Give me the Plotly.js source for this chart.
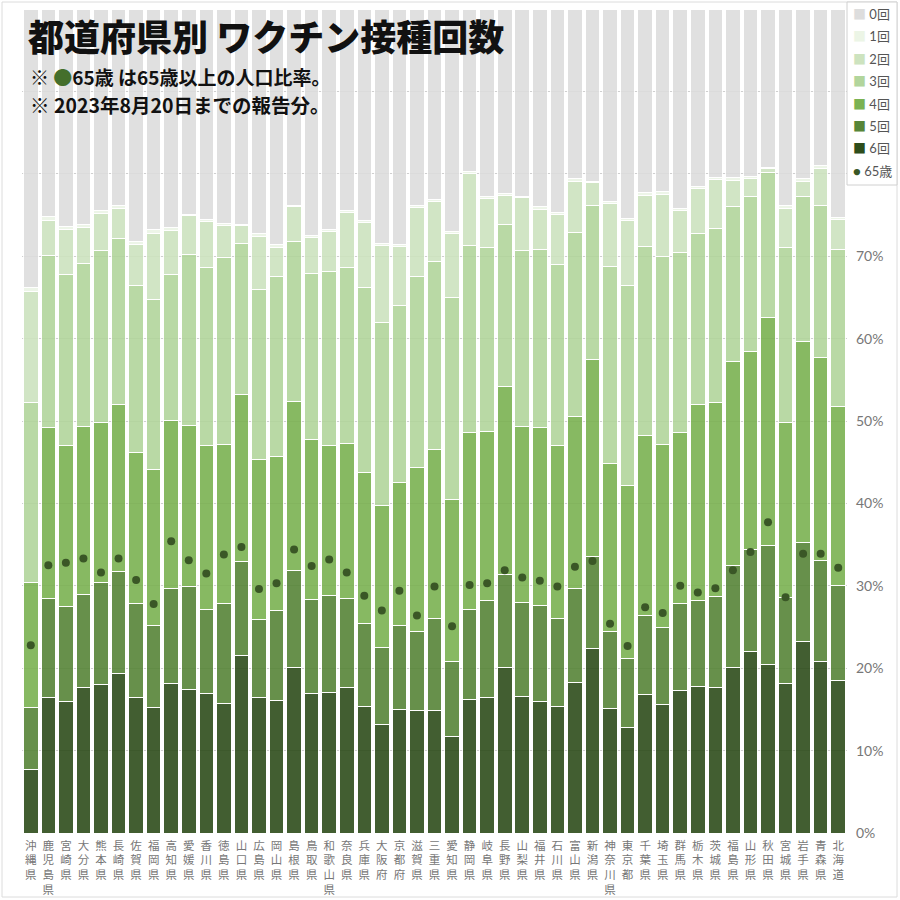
<!DOCTYPE html>
<html>
<head>
<meta charset="utf-8">
<script src="https://cdn.plot.ly/plotly-3.0.1.min.js"></script>
<style>
  body { margin: 0; background: #fff; }
  #chart { width: 900px; height: 900px; }
</style>
</head>
<body>
<div id="chart"></div>
<script>
const prefectures = ['沖縄県', '鹿児島県', '宮崎県', '大分県', '熊本県', '長崎県', '佐賀県', '福岡県',
  '高知県', '愛媛県', '香川県', '徳島県', '山口県', '広島県', '岡山県', '島根県', '鳥取県', '和歌山県',
  '奈良県', '兵庫県', '大阪府', '京都府', '滋賀県', '三重県', '愛知県', '静岡県', '岐阜県', '長野県',
  '山梨県', '福井県', '石川県', '富山県', '新潟県', '神奈川県', '東京都', '千葉県', '埼玉県', '群馬県',
  '栃木県', '茨城県', '福島県', '山形県', '秋田県', '宮城県', '岩手県', '青森県', '北海道'];

// share of population with at least N doses (%)
const atLeast6 = [7.7, 16.4, 15.9, 17.6, 18.0, 19.4, 16.4, 15.2, 18.1, 17.4, 16.9, 15.7, 21.6, 16.4, 16.1, 20.1,
  16.9, 17.0, 17.6, 15.3, 13.2, 15.0, 14.9, 14.9, 11.7, 16.2, 16.4, 20.1, 16.6, 16.0, 15.4, 18.3, 22.4, 15.1,
  12.8, 16.8, 15.6, 17.3, 17.8, 17.7, 20.1, 22.0, 20.5, 18.1, 23.2, 20.8, 18.5];
const atLeast5 = [15.2, 28.5, 27.5, 29.0, 30.4, 31.7, 27.9, 25.2, 29.7, 29.9, 27.1, 27.8, 33.0, 25.9, 27.0, 31.8,
  28.3, 28.8, 28.5, 25.4, 22.5, 25.2, 24.5, 26.0, 20.8, 27.1, 28.2, 31.4, 28.0, 27.6, 26.0, 29.7, 33.6, 24.5,
  21.2, 26.4, 25.0, 27.8, 28.2, 28.7, 32.5, 34.4, 34.9, 28.6, 35.3, 33.1, 30.0];
const atLeast4 = [30.4, 49.2, 47.0, 49.3, 49.8, 52.0, 46.2, 44.1, 50.1, 49.4, 47.0, 47.1, 53.2, 45.3, 45.7, 52.4,
  47.8, 47.0, 47.3, 43.7, 39.7, 42.5, 44.4, 46.6, 40.5, 48.6, 48.7, 54.2, 49.3, 49.2, 47.0, 50.6, 57.5, 44.9,
  42.2, 48.3, 47.2, 48.6, 52.0, 52.2, 57.2, 58.4, 62.6, 49.8, 59.7, 57.7, 51.7];
const atLeast3 = [52.3, 70.1, 67.8, 69.1, 70.7, 72.1, 66.5, 64.8, 67.8, 70.2, 68.6, 69.8, 71.5, 66.0, 67.5, 71.8,
  67.9, 68.2, 68.6, 66.2, 62.0, 64.0, 67.5, 69.3, 65.0, 71.3, 71.1, 73.9, 70.7, 70.8, 69.0, 72.9, 76.2, 68.7,
  66.4, 71.2, 70.0, 70.5, 72.7, 73.4, 76.0, 77.3, 80.1, 71.0, 77.2, 76.1, 70.8];
const atLeast2 = [65.7, 74.3, 73.3, 73.5, 75.2, 75.8, 71.4, 72.8, 73.1, 74.9, 74.2, 73.7, 73.7, 72.4, 71.1, 76.0,
  72.3, 73.0, 75.3, 74.1, 71.3, 71.2, 75.9, 76.6, 72.8, 80.0, 77.0, 77.4, 77.1, 75.7, 75.1, 79.1, 78.9, 76.4,
  74.3, 77.4, 77.5, 75.6, 78.2, 79.3, 79.2, 79.4, 80.6, 75.8, 79.1, 80.7, 74.4];
const atLeast1 = [66.2, 74.8, 73.6, 73.8, 75.5, 76.1, 71.8, 73.3, 73.5, 75.1, 74.5, 74.0, 73.9, 72.7, 71.4, 76.2,
  72.5, 73.2, 75.6, 74.3, 71.6, 71.4, 76.1, 76.9, 73.0, 80.3, 77.2, 77.6, 77.3, 76.0, 75.3, 79.4, 79.1, 76.6,
  74.6, 77.7, 77.8, 75.8, 78.5, 79.6, 79.5, 79.7, 80.8, 76.1, 79.4, 81.0, 74.7];
// share of population aged 65+ (%)
const age65 = [22.8, 32.5, 32.8, 33.3, 31.6, 33.3, 30.7, 27.8, 35.4, 33.1, 31.5, 33.8, 34.7, 29.6, 30.3, 34.4,
  32.4, 33.2, 31.6, 28.8, 27.0, 29.4, 26.4, 29.9, 25.1, 30.1, 30.3, 31.9, 31.0, 30.6, 29.9, 32.3, 33.0, 25.4,
  22.7, 27.4, 26.7, 30.0, 29.2, 29.7, 31.9, 34.1, 37.7, 28.6, 33.9, 33.9, 32.2];

const doseNames = ['6回', '5回', '4回', '3回', '2回', '1回', '0回'];
const doseColors = ['#2e4d1b', '#578538', '#7bb252', '#b2d59c', '#cde3bf', '#ecf5e6', '#dddddd'];
const dotColor = '#3a5726';

const levels = [atLeast6, atLeast5, atLeast4, atLeast3, atLeast2, atLeast1, prefectures.map(() => 100)];
const diff = (i) => levels[i].map((v, k) => +(v - (i > 0 ? levels[i - 1][k] : 0)).toFixed(1));

const traces = doseNames.map((name, i) => ({
  type: 'bar',
  name,
  x: prefectures,
  y: diff(i),
  marker: { color: doseColors[i], opacity: 0.9, line: { color: '#ffffff', width: 1 } },
  showlegend: false,
}));

traces.push({
  type: 'scatter',
  mode: 'markers',
  name: '65歳',
  x: prefectures,
  y: age65,
  marker: { color: dotColor, size: 8 },
  showlegend: false,
});

// pixel helpers for the overlay text and the hand-made legend
const W = 900, H = 900, L = 22, R = 53, T = 9, B = 67;
const px = (x) => (x - L) / (W - L - R);
const py = (y) => (H - B - y) / (H - T - B);

const jp = 'Noto Sans CJK JP, Noto Sans, sans-serif';
const annotations = [
  {
    text: '都道府県別 ワクチン接種回数',
    x: px(26), y: py(35), xanchor: 'left', yanchor: 'middle',
    font: { family: jp, size: 36, color: '#111', weight: 900 },
  },
  {
    text: '※ <span style="color:#446f2c">●</span>65歳 は65歳以上の人口比率。',
    x: px(28), y: py(76), xanchor: 'left', yanchor: 'middle',
    font: { family: jp, size: 19, color: '#111', weight: 700 },
  },
  {
    text: '※ 2023年8月20日までの報告分。',
    x: px(28), y: py(104), xanchor: 'left', yanchor: 'middle',
    font: { family: jp, size: 19.5, color: '#111', weight: 700 },
  },
];

const legendItems = doseNames.slice().reverse().map((name, i) => ({
  name, color: doseColors[doseNames.length - 1 - i], symbol: '■',
}));
legendItems.push({ name: '65歳', color: dotColor, symbol: '●' });
legendItems.forEach((item, i) => {
  annotations.push({
    text: `<span style="color:${item.color}">${item.symbol}</span> ${item.name}`,
    x: px(851), y: py(14 + i * 22.4), xanchor: 'left', yanchor: 'middle',
    font: { family: 'Lato, Noto Sans CJK JP, sans-serif', size: 13, color: '#555' },
  });
});
annotations.forEach((a) => { a.xref = 'paper'; a.yref = 'paper'; a.showarrow = false; });

const shapes = [
  {
    type: 'rect', xref: 'paper', yref: 'paper', layer: 'above',
    x0: px(2), x1: px(897), y0: py(897), y1: py(2),
    line: { color: '#dcdcdc', width: 1 },
  },
  {
    type: 'rect', xref: 'paper', yref: 'paper', layer: 'above',
    x0: px(847), x1: px(897), y0: py(185), y1: py(2),
    fillcolor: '#ffffff', line: { color: '#d0d0d0', width: 1 },
  },
];

const tickVals = [0, 10, 20, 30, 40, 50, 60, 70, 80, 90, 100];

Plotly.newPlot('chart', traces, {
  width: W,
  height: H,
  margin: { l: L, r: R, t: T, b: B },
  paper_bgcolor: '#ffffff',
  plot_bgcolor: '#ffffff',
  barmode: 'stack',
  bargap: 0.17,
  showlegend: false,
  xaxis: {
    range: [-0.5, prefectures.length - 0.5],
    tickvals: prefectures,
    ticktext: prefectures.map((p) => p.split('').join('<br>')),
    tickfont: { family: jp, size: 11.5, color: '#777' },
    ticks: '',
    ticklabelstandoff: 4,
    showgrid: false,
    zeroline: false,
  },
  yaxis: {
    side: 'right',
    range: [0, 100],
    tickvals: tickVals,
    ticktext: tickVals.map((v) => (v <= 70 ? v + '%' : '')),
    tickfont: { family: 'Lato, Noto Sans, sans-serif', size: 14, color: '#777' },
    ticks: '',
    ticklabelstandoff: 8,
    gridcolor: '#cfcfcf',
    zeroline: false,
  },
  annotations,
  shapes,
}, { displayModeBar: false, staticPlot: true });
</script>
</body>
</html>
